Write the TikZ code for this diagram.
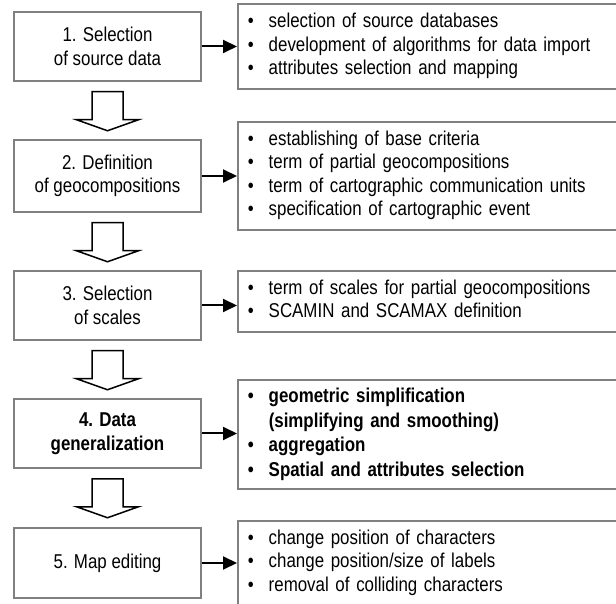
\documentclass[tikz,border=0pt]{standalone}
\usepackage{fontspec}
\setmainfont{Liberation Sans}[FakeStretch=0.845]
\usetikzlibrary{arrows.meta}
\definecolor{boxgray}{RGB}{128,128,128}
\newcommand{\blist}[1]{\begin{tabular}{@{}p{21pt}@{}l@{}}#1\end{tabular}}
\begin{document}
\begin{tikzpicture}[x=1pt,y=1pt,
  lbox/.style={draw=boxgray, line width=1.5pt, fill=white, minimum width=187pt, align=center, inner sep=0pt, font=\fontsize{20}{23.5}\selectfont},
  rbox/.style={draw=boxgray, line width=1.5pt, fill=white, anchor=west, text width=380pt, inner xsep=10pt, inner ysep=0pt, align=left, font=\fontsize{20}{23.5}\selectfont},
  harrow/.style={-{Triangle[length=14pt,width=13pt]}, line width=2pt},
  barrow/.style={draw=black, line width=1.5pt, fill=white, line join=miter}
]
\useasboundingbox (0,0) rectangle (616,603);
\clip (0,0) rectangle (616,603);
\fill[white] (0,0) rectangle (616,603);

% left boxes
\node[lbox, minimum height=69pt] (b1) at (107.5,556.5) {1. Selection\\of source data};
\node[lbox, minimum height=72pt] (b2) at (107.5,427) {2. Definition\\of geocompositions};
\node[lbox, minimum height=69pt] (b3) at (107.5,297.5) {3. Selection\\of scales};
\node[lbox, minimum height=69pt, font=\fontsize{20}{23.5}\selectfont\bfseries] (b4) at (107.5,169.5) {4. Data\\generalization};
\node[lbox, minimum height=70pt] (b5) at (107.5,40) {5. Map editing};

% right boxes
\node[rbox, minimum height=85pt] (r1) at (237,556.5) {\blist{%
\textbullet & selection of source databases\\
\textbullet & development of algorithms for data import\\
\textbullet & attributes selection and mapping}};
\node[rbox, minimum height=108pt] (r2) at (237,427) {\blist{%
\textbullet & establishing of base criteria\\
\textbullet & term of partial geocompositions\\
\textbullet & term of cartographic communication units\\
\textbullet & specification of cartographic event}};
\node[rbox, minimum height=61pt] (r3) at (237,301.5) {\blist{%
\textbullet & term of scales for partial geocompositions\\
\textbullet & SCAMIN and SCAMAX definition}};
\node[rbox, minimum height=109pt, font=\fontsize{20}{24.5}\selectfont\bfseries] (r4) at (237,168.5) {\blist{%
\textbullet & geometric simplification\\
 & (simplifying and smoothing)\\
\textbullet & aggregation\\
\textbullet & Spatial and attributes selection}};
\node[rbox, minimum height=84pt] (r5) at (237,40) {\blist{%
\textbullet & change position of characters\\
\textbullet & change position/size of labels\\
\textbullet & removal of colliding characters}};

% horizontal arrows
\foreach \i in {1,...,5}{
  \draw[harrow] (b\i.east) -- (b\i.east -| r\i.west);
}

% block arrows
\foreach \i in {1,...,4}{
  \draw[barrow] ([xshift=-15.5pt,yshift=-10pt]b\i.south) -- ++(0,-28) -- ++(-15.5,0) -- ++(31,-11) -- ++(31,11) -- ++(-15.5,0) -- ++(0,28) -- cycle;
}
\end{tikzpicture}
\end{document}
